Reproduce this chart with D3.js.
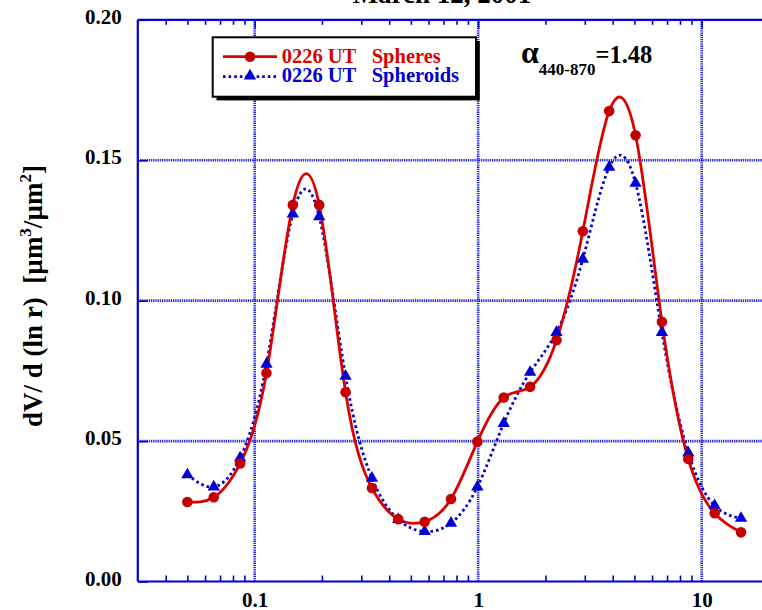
<!DOCTYPE html>
<html>
<head>
<meta charset="utf-8">
<script src="https://cdn.jsdelivr.net/npm/d3@7"></script>
<style>
  body { margin: 0; background: #fff; }
  svg { display: block; font-family: "Liberation Serif", "Times New Roman", serif; font-weight: bold; }
</style>
</head>
<body>
<svg id="chart" width="762" height="610"></svg>
<script>
// Size-distribution bins (radius, µm) and retrieved volume concentrations
const radius = [0.05, 0.065604, 0.086077, 0.112939, 0.148184, 0.194429, 0.255105, 0.334716,
                0.439173, 0.576227, 0.756052, 0.991996, 1.301571, 1.707757, 2.240702, 2.939966,
                3.857452, 5.061260, 6.640745, 8.713145, 11.432287, 15.0];
const spheres = [0.0283, 0.0300, 0.0420, 0.0742, 0.1341, 0.1341, 0.0674, 0.0333,
                 0.0222, 0.0213, 0.0294, 0.0498, 0.0655, 0.0693, 0.0859, 0.1247,
                 0.1675, 0.1589, 0.0925, 0.0436, 0.0243, 0.0175];
const spheroids = [0.0380, 0.0337, 0.0440, 0.0774, 0.1309, 0.1299, 0.0731, 0.0368,
                   0.0221, 0.0178, 0.0208, 0.0337, 0.0563, 0.0745, 0.0887, 0.1148,
                   0.1475, 0.1418, 0.0887, 0.0458, 0.0270, 0.0225];

const xMajorTicks = [0.1, 1, 10];
const xMinorTicks = [0.04, 0.05, 0.06, 0.07, 0.08, 0.09,
                     0.2, 0.3, 0.4, 0.5, 0.6, 0.7, 0.8, 0.9,
                     2, 3, 4, 5, 6, 7, 8, 9, 20];
const yTicks = [0, 0.05, 0.10, 0.15, 0.20];
const yGrid = [0.05, 0.10, 0.15];

const titleText = "March 12, 2001";
const legendTime = "0226 UT";
const seriesNames = ["Spheres", "Spheroids"];
const alphaSub = "440-870";
const alphaValue = "=1.48";

const RED = "#dd0000", RED_DOT = "#c40000", BLUE = "#0000d4", AXIS = "#0000d8", GRID = "#2222e0";
const SERIF = '"Liberation Serif", "Times New Roman", serif';

const svg = d3.select("#chart");
const x = d3.scaleLog().domain([0.03, 30]).range([137.8, 808.3]);
const y = d3.scaleLinear().domain([0, 0.2]).range([581.5, 19.8]);

// Title (sits above the frame)
svg.append("text").attr("x", 442).attr("y", 3).attr("text-anchor", "middle")
  .attr("font-size", 27).attr("fill", "#000").text(titleText);

// Dotted grid
const grid = svg.append("g").attr("stroke", GRID).attr("stroke-width", 2.6).attr("stroke-dasharray", "1.3,0.9");
grid.selectAll("line.v").data(xMajorTicks).join("line").attr("class", "v")
  .attr("x1", d => x(d)).attr("x2", d => x(d)).attr("y1", y(0)).attr("y2", y(0.2));
grid.selectAll("line.h").data(yGrid).join("line").attr("class", "h")
  .attr("x1", x(0.03)).attr("x2", x(30)).attr("y1", d => y(d)).attr("y2", d => y(d));

// Minor ticks, inward, on bottom and top frame lines
function styleTicks(g) {
  g.select(".domain").remove();
  g.selectAll(".tick line").attr("stroke", AXIS).attr("stroke-width", 1.6);
  g.selectAll(".tick text").remove();
}
svg.append("g").attr("transform", `translate(0,${y(0)})`)
  .call(d3.axisBottom(x).tickValues(xMinorTicks).tickSize(-6).tickFormat(""))
  .call(styleTicks);
svg.append("g").attr("transform", `translate(0,${y(0.2)})`)
  .call(d3.axisTop(x).tickValues(xMinorTicks).tickSize(-5).tickFormat(""))
  .call(styleTicks);
svg.append("g").attr("transform", `translate(0,${y(0.2)})`)
  .call(d3.axisTop(x).tickValues(xMajorTicks).tickSize(-9).tickFormat(""))
  .call(styleTicks);

// X tick labels
const xLab = svg.append("g").attr("transform", `translate(0,${y(0)})`)
  .call(d3.axisBottom(x).tickValues(xMajorTicks).tickSize(0).tickPadding(0).tickFormat(d3.format("~g")));
xLab.attr("font-family", SERIF).attr("font-size", 21);
xLab.select(".domain").remove();
xLab.selectAll(".tick text").attr("fill", "#000").attr("y", 25.2).attr("dy", 0);

// Y axis: inward ticks and labels
const yAx = svg.append("g").attr("transform", `translate(${x(0.03)},0)`)
  .call(d3.axisLeft(y).tickValues(yTicks).tickSize(-10).tickPadding(16).tickFormat(d3.format(".2f")));
yAx.attr("font-family", SERIF).attr("font-size", 21);
yAx.select(".domain").remove();
yAx.selectAll(".tick line").attr("stroke", AXIS).attr("stroke-width", 1.6);
yAx.selectAll(".tick text").attr("fill", "#000").attr("dy", 3.5);

// Frame lines (left, bottom, top)
const frame = svg.append("g").attr("stroke", AXIS).attr("stroke-width", 2.2).attr("fill", "none");
frame.append("line").attr("x1", x(0.03)).attr("x2", x(30)).attr("y1", y(0)).attr("y2", y(0));
frame.append("line").attr("x1", x(0.03)).attr("x2", x(30)).attr("y1", y(0.2)).attr("y2", y(0.2));
frame.append("line").attr("x1", x(0.03)).attr("x2", x(0.03)).attr("y1", y(0)).attr("y2", y(0.2));

// Y axis title
const yTitle = svg.append("text").attr("transform", "translate(42,296) rotate(-90)")
  .attr("text-anchor", "middle").attr("font-size", 27).attr("fill", "#000");
yTitle.append("tspan").text("dV/ d (ln r)\u00a0\u00a0[µm");
yTitle.append("tspan").attr("font-size", 17).attr("dy", -11).text("3");
yTitle.append("tspan").attr("dy", 11).text("/µm");
yTitle.append("tspan").attr("font-size", 17).attr("dy", -11).text("2");
yTitle.append("tspan").attr("dy", 11).text("]");

// Curves
const sphData = radius.map((r, i) => ({ r, v: spheres[i] }));
const spdData = radius.map((r, i) => ({ r, v: spheroids[i] }));
const line = d3.line().x(d => x(d.r)).y(d => y(d.v)).curve(d3.curveNatural);

svg.append("path").datum(spdData).attr("d", line).attr("fill", "none")
  .attr("stroke", BLUE).attr("stroke-width", 2.8).attr("stroke-dasharray", "2.6,3");
svg.append("path").datum(sphData).attr("d", line).attr("fill", "none")
  .attr("stroke", RED).attr("stroke-width", 2.8);

const tri = d3.symbol(d3.symbolTriangle, 66);
svg.append("g").selectAll("path").data(spdData).join("path")
  .attr("transform", d => `translate(${x(d.r)},${y(d.v)})`).attr("d", tri).attr("fill", BLUE);
svg.append("g").selectAll("circle").data(sphData).join("circle")
  .attr("cx", d => x(d.r)).attr("cy", d => y(d.v)).attr("r", 5.3).attr("fill", RED_DOT);

// Legend with drop shadow
const lg = svg.append("g");
lg.append("rect").attr("x", 216.5).attr("y", 41).attr("width", 263.3).attr("height", 59.4).attr("fill", "#000");
lg.append("rect").attr("x", 212.7).attr("y", 37.3).attr("width", 263.3).attr("height", 59.4)
  .attr("fill", "#fff").attr("stroke", "#000").attr("stroke-width", 2);
lg.append("line").attr("x1", 223).attr("x2", 277).attr("y1", 56.7).attr("y2", 56.7)
  .attr("stroke", RED).attr("stroke-width", 2.8);
lg.append("circle").attr("cx", 250).attr("cy", 56.7).attr("r", 5.3).attr("fill", RED_DOT);
lg.append("line").attr("x1", 223).attr("x2", 277).attr("y1", 76.7).attr("y2", 76.7)
  .attr("stroke", BLUE).attr("stroke-width", 2.8).attr("stroke-dasharray", "2.6,3");
lg.append("path").attr("transform", "translate(250,76)").attr("d", tri).attr("fill", BLUE);
[[RED, 63], [BLUE, 82]].forEach(([c, by], i) => {
  lg.append("text").attr("x", 281.7).attr("y", by).attr("font-size", 20.5).attr("fill", c).text(legendTime);
  lg.append("text").attr("x", 371.7).attr("y", by).attr("font-size", 20.5).attr("fill", c).text(seriesNames[i]);
});

// Angstrom exponent annotation
const ann = svg.append("text").attr("x", 521).attr("y", 63).attr("fill", "#000");
ann.append("tspan").attr("font-size", 32).text("α");
ann.append("tspan").attr("font-size", 17).attr("dy", 12).attr("dx", 0).text(alphaSub);
ann.append("tspan").attr("font-size", 24.5).attr("dy", -12).text(alphaValue);
</script>
</body>
</html>
